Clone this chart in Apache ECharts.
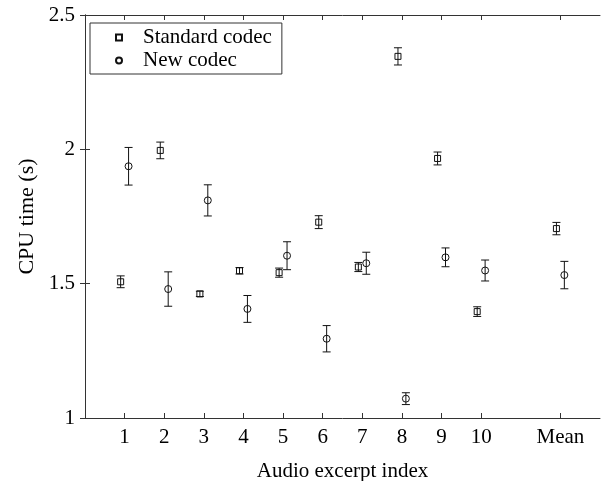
<!DOCTYPE html>
<html lang="en">
<head>
    <meta charset="UTF-8">
    <title>CPU time</title>
    <script src="https://cdn.jsdelivr.net/npm/echarts@6/dist/echarts.min.js"></script>
    <style>
        html, body { margin: 0; padding: 0; background: #fff; }
    </style>
</head>
<body>
<div id="main" style="width: 602px;height:481px;"></div>
<script type="text/javascript">
    // x positions and tick labels
    var positions = [1, 2, 3, 4, 5, 6, 7, 8, 9, 10, 12];
    var tickLabels = ['1', '2', '3', '4', '5', '6', '7', '8', '9', '10', 'Mean'];

    // CPU time (s)
    var standardMean = [1.507, 1.996, 1.462, 1.548, 1.541, 1.729, 1.562, 2.346, 1.966, 1.396, 1.705];
    var standardErr  = [0.022, 0.031, 0.010, 0.012, 0.017, 0.024, 0.017, 0.032, 0.024, 0.018, 0.023];
    var newMean = [1.937, 1.480, 1.810, 1.406, 1.604, 1.295, 1.576, 1.072, 1.598, 1.549, 1.532];
    var newErr  = [0.070, 0.064, 0.058, 0.050, 0.052, 0.049, 0.041, 0.022, 0.035, 0.039, 0.051];

    var font = 'Liberation Serif';
    var shift = 0.1;   // horizontal offset of the two codecs

    function points(vals, errs, dx) {
        return vals.map(function (v, i) { return [positions[i] + dx, v, errs[i]]; });
    }

    function errorBar(params, api) {
        var x = api.value(0), v = api.value(1), e = api.value(2);
        var hi = api.coord([x, v + e]);
        var lo = api.coord([x, v - e]);
        var cap = 4;
        var style = { stroke: '#111', lineWidth: 1 };
        return {
            type: 'group',
            children: [
                { type: 'line', shape: { x1: hi[0], y1: hi[1], x2: lo[0], y2: lo[1] }, style: style },
                { type: 'line', shape: { x1: hi[0] - cap, y1: hi[1], x2: hi[0] + cap, y2: hi[1] }, style: style },
                { type: 'line', shape: { x1: lo[0] - cap, y1: lo[1], x2: lo[0] + cap, y2: lo[1] }, style: style }
            ]
        };
    }

    var tickLabelText = function (v) {
        var i = positions.indexOf(v);
        return i >= 0 ? tickLabels[i] : '';
    };

    var axisLine = { show: true, lineStyle: { color: '#333', width: 1 } };
    var xTick = { show: true, inside: true, length: 5, customValues: positions, lineStyle: { color: '#333' } };
    var yTick = { show: true, inside: true, length: 5, lineStyle: { color: '#333' } };

    var myChart = echarts.init(document.getElementById('main'));
    myChart.setOption({
        animation: false,
        textStyle: { fontFamily: font },
        grid: { left: 85, right: 2, top: 15, bottom: 63, outerBoundsMode: 'none' },
        legend: {
            data: ['Standard codec', 'New codec'],
            orient: 'vertical',
            left: 90,
            top: 23,
            padding: [4, 10, 3, 25],
            itemGap: 2,
            itemWidth: 6,
            itemHeight: 6,
            borderColor: '#333',
            borderWidth: 1,
            backgroundColor: '#fff',
            textStyle: { fontFamily: font, fontSize: 21, color: '#000', lineHeight: 21, padding: [0, 0, 0, 16] }
        },
        xAxis: [{
            type: 'value',
            min: 0,
            max: 13,
            interval: 1,
            position: 'bottom',
            name: 'Audio excerpt index',
            nameLocation: 'middle',
            nameGap: 43,
            nameTextStyle: { fontFamily: font, fontSize: 21, color: '#000' },
            axisLine: axisLine,
            axisTick: xTick,
            splitLine: { show: false },
            axisLabel: {
                customValues: positions,
                formatter: tickLabelText,
                fontFamily: font, fontSize: 21, color: '#000', margin: 9
            }
        }, {
            type: 'value',
            min: 0,
            max: 13,
            interval: 1,
            position: 'top',
            axisLine: axisLine,
            axisTick: xTick,
            splitLine: { show: false },
            axisLabel: { show: false }
        }],
        yAxis: [{
            type: 'value',
            min: 1,
            max: 2.5,
            interval: 0.5,
            position: 'left',
            name: 'CPU time (s)',
            nameLocation: 'middle',
            nameGap: 47,
            nameTextStyle: { fontFamily: font, fontSize: 22, color: '#000' },
            axisLine: axisLine,
            axisTick: yTick,
            splitLine: { show: false },
            axisLabel: { fontFamily: font, fontSize: 21, color: '#000', margin: 10 }
        }, {
            type: 'value',
            min: 1,
            max: 2.5,
            interval: 0.5,
            position: 'right',
            axisLine: axisLine,
            axisTick: yTick,
            splitLine: { show: false },
            axisLabel: { show: false }
        }],
        series: [{
            name: 'Standard error',
            type: 'custom',
            renderItem: errorBar,
            data: points(standardMean, standardErr, -shift),
            z: 3
        }, {
            name: 'New error',
            type: 'custom',
            renderItem: errorBar,
            data: points(newMean, newErr, shift),
            z: 3
        }, {
            name: 'Standard codec',
            type: 'scatter',
            symbol: 'rect',
            symbolSize: 6,
            data: points(standardMean, standardErr, -shift),
            itemStyle: { color: 'transparent', borderColor: '#111', borderWidth: 1, opacity: 1 },
            z: 4
        }, {
            name: 'New codec',
            type: 'scatter',
            symbol: 'circle',
            symbolSize: 7,
            data: points(newMean, newErr, shift),
            itemStyle: { color: 'transparent', borderColor: '#111', borderWidth: 1, opacity: 1 },
            z: 4
        }]
    });
</script>
</body>
</html>
